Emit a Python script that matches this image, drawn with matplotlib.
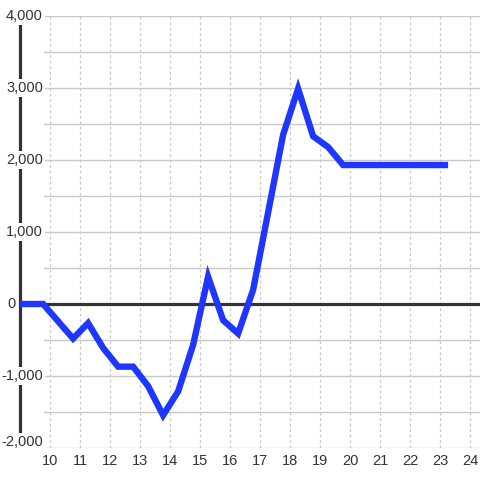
import matplotlib
matplotlib.use("Agg")
import matplotlib.pyplot as plt
import numpy as np

# ---- data ----
x_hours = [8.77, 9.27, 9.77, 10.27, 10.77, 11.27, 11.77, 12.27, 12.77, 13.27,
           13.77, 14.27, 14.77, 15.27, 15.77, 16.27, 16.77, 17.27, 17.77,
           18.27, 18.77, 19.27, 19.77, 20.27, 20.77, 21.27, 21.77, 22.27,
           22.77, 23.27]
values = [0, 0, 0, -240, -480, -265, -610, -870, -870, -1140,
          -1545, -1215, -570, 380, -225, -410, 195, 1270, 2350,
          2990, 2330, 2180, 1930, 1930, 1930, 1930, 1930, 1930,
          1930, 1930]
y_ticks = [-2000, -1000, 0, 1000, 2000, 3000, 4000]
y_labels = ["-2,000", "-1,000", "0", "1,000", "2,000", "3,000", "4,000"]
x_ticks = list(range(10, 25))
x_labels = [str(v) for v in x_ticks]

plt.rcParams['font.family'] = ['Liberation Sans', 'DejaVu Sans']

W = H = 480
fig = plt.figure(figsize=(4.8, 4.8), dpi=100)
fig.patch.set_facecolor('white')
ax = fig.add_axes([20 / W, (H - 448) / H, 460 / W, 432 / H])
ax.set_facecolor('white')
ax.set_xlim(9.0, 24.3333)
ax.set_ylim(-2000, 4000)

for s in ['top', 'right', 'bottom']:
    ax.spines[s].set_visible(False)
ax.spines['left'].set_color('#333333')
ax.spines['left'].set_linewidth(2.3)
ax.spines['left'].set_zorder(1.2)

# grid
for v in np.arange(-2000, 4001, 500):
    ax.axhline(v, xmin=24 / 460, xmax=1, color='#c8c8c8', lw=1.0, zorder=0.5)
for v in x_ticks:
    ax.axvline(v, color='#c8c8c8', lw=0.9, ls=(0, (2.2, 2.2)), zorder=0.5)

# zero line
ax.axhline(0, color='#333333', lw=2.3, zorder=1.5)

# data line
ax.plot(x_hours, values, color='#1f36ff', lw=4.6, solid_joinstyle='miter',
        solid_capstyle='butt', zorder=3)

# y labels
ax.set_yticks([])
for v, lab in zip(y_ticks, y_labels):
    if v == 0:
        xf, off = -4 / 460, 1
    elif v == -2000:
        xf, off = 23 / 460, 6 * 6000 / 432
    else:
        xf, off = 23 / 460, 0
    ax.text(xf, v + off, lab, transform=ax.get_yaxis_transform(),
            ha='right', va='center', fontsize=10.5, color='#333333',
            clip_on=False, zorder=2,
            bbox=dict(boxstyle='square,pad=0.15', fc='white', ec='none'))

# x labels
ax.set_xticks(x_ticks)
ax.set_xticklabels(x_labels)
ax.tick_params(axis='x', length=0, pad=4, labelsize=10.5, labelcolor='#333333')

fig.savefig('out.png', dpi=100, facecolor='white')
